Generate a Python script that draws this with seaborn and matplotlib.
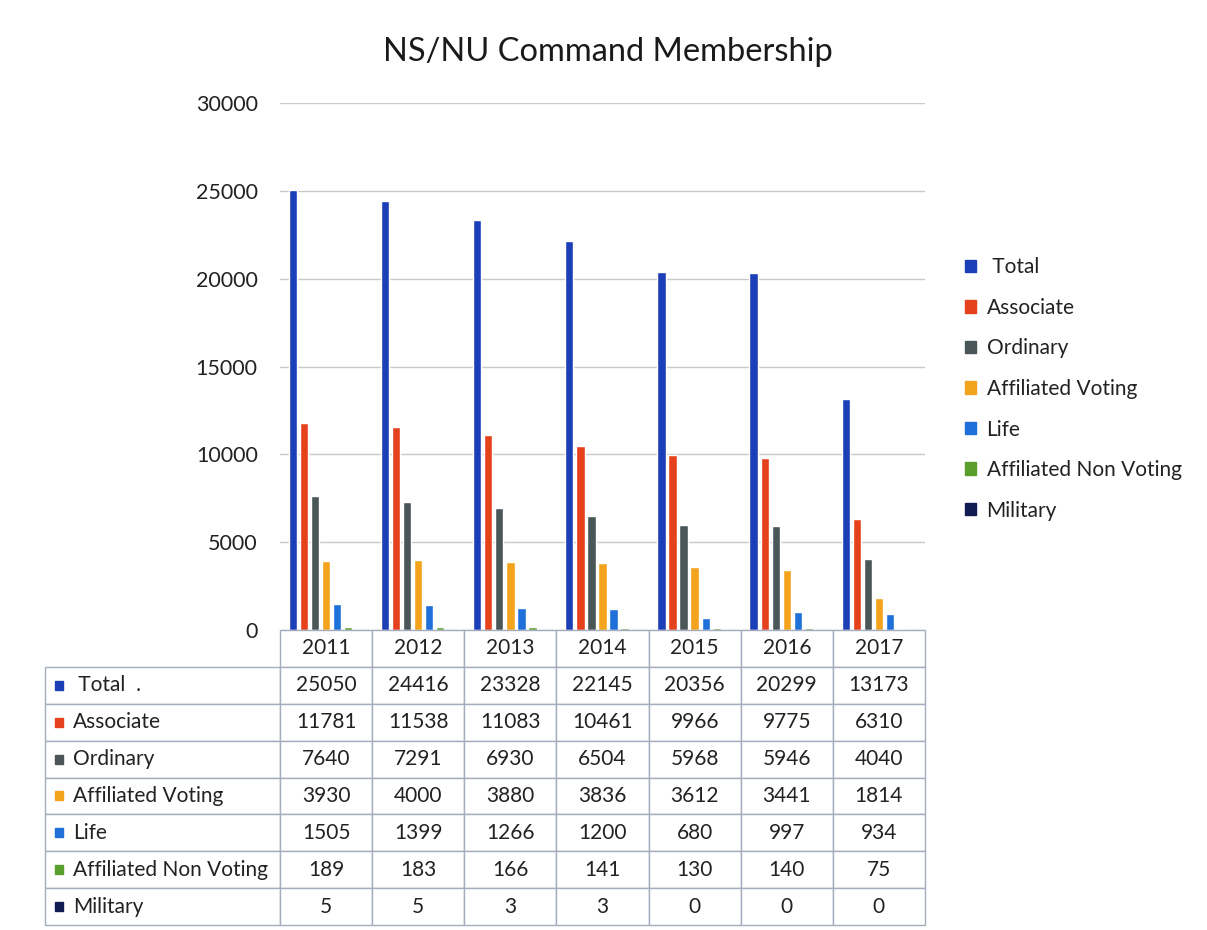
"""NS/NU Command Membership chart with data table."""

import seaborn as sns
import matplotlib.pyplot as plt
import pandas as pd
import numpy as np
from matplotlib.patches import Rectangle

sns.set_theme(style="white")
plt.rcParams['font.family'] = ['Lato', 'DejaVu Sans']

years = ['2011', '2012', '2013', '2014', '2015', '2016', '2017']
categories = ['Total', 'Associate', 'Ordinary', 'Affiliated Voting',
              'Life', 'Affiliated Non Voting', 'Military']
total = [25050, 24416, 23328, 22145, 20356, 20299, 13173]
associate = [11781, 11538, 11083, 10461, 9966, 9775, 6310]
ordinary = [7640, 7291, 6930, 6504, 5968, 5946, 4040]
affiliated_voting = [3930, 4000, 3880, 3836, 3612, 3441, 1814]
life = [1505, 1399, 1266, 1200, 680, 997, 934]
affiliated_non_voting = [189, 183, 166, 141, 130, 140, 75]
military = [5, 5, 3, 3, 0, 0, 0]

series = [total, associate, ordinary, affiliated_voting, life,
          affiliated_non_voting, military]
colors = ['#1c3fb8', '#e5411d', '#4b5658', '#f4a31c',
          '#1f70d8', '#5a9e2e', '#111c52']

df = pd.DataFrame({
    'Year': years * len(categories),
    'Category': [c for c in categories for _ in years],
    'Members': [v for s in series for v in s],
})

fig = plt.figure(figsize=(12.07, 9.30), dpi=100)
ax = fig.add_axes([280 / 1207, 1 - 630 / 930, 645 / 1207, 527 / 930])

sns.barplot(data=df, x='Year', y='Members', hue='Category',
            hue_order=categories, palette=colors, saturation=1,
            width=0.84, gap=0.25, legend=False, ax=ax)
ax.set_xlim(-0.5, 6.5)
ax.set_ylim(0, 30000)
ax.set_yticks(np.arange(0, 30001, 5000))
ax.set_xticks([])
ax.set_xlabel('')
ax.set_ylabel('')
ax.yaxis.grid(True, color='#c9c9c9', lw=1)
ax.set_axisbelow(True)
ax.tick_params(axis='y', length=0, pad=16, labelsize=15.5, colors='#222222')
for s in ax.spines.values():
    s.set_visible(False)

fig.suptitle('NS/NU Command Membership', x=0.504, y=1 - 52 / 930,
             va='center', fontsize=23.5, color='#1a1a1a')

# legend
handles = [Rectangle((0, 0), 1, 1, color=c) for c in colors]
labels = [' Total'] + categories[1:]
fig.legend(handles, labels, loc='center left',
           bbox_to_anchor=(946 / 1207, 1 - 389 / 930), frameon=False,
           fontsize=15, handlelength=0.55, handleheight=0.55,
           handletextpad=0.5, labelspacing=0.985, labelcolor='#222222')

# data table
tax = fig.add_axes([45 / 1207, 1 - 925 / 930, 880 / 1207, 295 / 930])
tax.set_axis_off()
rows = [[''] + years]
for c, s in zip(categories, series):
    name = ' Total  .' if c == 'Total' else c
    rows.append([name] + [str(v) for v in s])
col_widths = [235 / 880] + [645 / 880 / 7] * 7
tbl = tax.table(cellText=rows, colWidths=col_widths, bbox=[0, 0, 1, 1],
                cellLoc='center')
tbl.auto_set_font_size(False)
tbl.set_fontsize(15)
for (r, c), cell in tbl.get_celld().items():
    cell.set_edgecolor('#a3adbd')
    cell.set_linewidth(1)
    cell.get_text().set_color('#222222')
    if c == 0:
        cell.get_text().set_ha('left')
        cell.PAD = 0.12
        cell._loc = 'left'
    if r == 0 and c == 0:
        cell.visible_edges = 'B'
        cell.set_edgecolor('#ffffff')

n_rows = len(rows)
row_h = 1 / n_rows
for i, col in enumerate(colors):
    yc = 1 - row_h * (i + 1.5)
    tax.add_patch(Rectangle((10 / 880, yc - 4.5 / 295), 8 / 880, 9 / 295,
                            color=col, transform=tax.transAxes, clip_on=False))

fig.savefig('out.png', dpi=100)
